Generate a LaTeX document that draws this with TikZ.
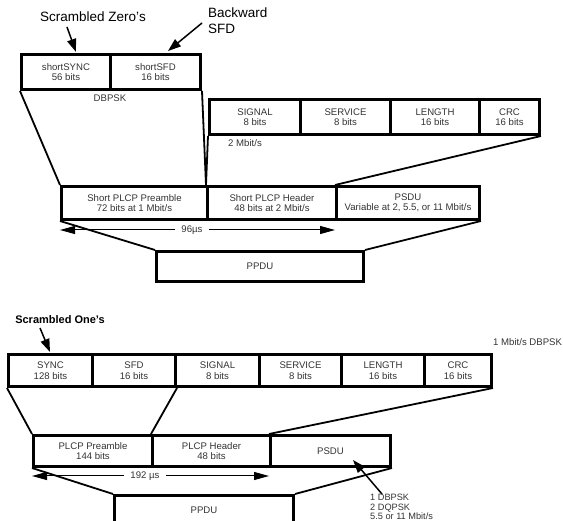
\documentclass[tikz,border=0pt]{standalone}
\usepackage{fontspec}
\setmainfont{Liberation Sans}
\usetikzlibrary{arrows.meta}
\begin{document}
\begin{tikzpicture}[x=1pt,y=-1pt,
  cell/.style={draw, line width=3pt, inner sep=0pt, align=center,
    font=\fontsize{9.6}{10.5}\selectfont, text=black!80, anchor=north west},
  conn/.style={line width=1.8pt},
  lbl/.style={font=\fontsize{9.6}{10.5}\selectfont, text=black!80, inner sep=0pt},
  big/.style={font=\fontsize{13.5}{16}\selectfont, inner sep=0pt},
  callout/.style={line width=1.5pt, -{Triangle[length=13pt,width=9pt]}},
  span/.style={line width=1pt, {Triangle[length=15pt,width=8pt]}-{Triangle[length=15pt,width=8pt]}}
]
\useasboundingbox (0,0) rectangle (563,521);
\clip (0,0) rectangle (563,521);

% ---------- top (short preamble) ----------
\node[big] (sz) at (93,17) {Scrambled Zero's};
\node[big, align=left, anchor=north west] (bsfd) at (208,8) {Backward\\SFD};

\node[cell, minimum width=89pt, minimum height=35pt] (ssync) at (20,53) {shortSYNC\\56 bits};
\node[cell, minimum width=90pt, minimum height=35pt] (ssfd) at (109,53) {shortSFD\\16 bits};
\node[lbl] (dbpsk) at (110,98) {DBPSK};

\coordinate (szs) at (67,27);
\coordinate (bss) at (202,23);
\draw[callout] (szs) -- (76,52);
\draw[callout] (bss) -- (168,51);

\node[cell, minimum width=91pt, minimum height=35pt] (sig1) at (208,98) {SIGNAL\\8 bits};
\node[cell, minimum width=90pt, minimum height=35pt] (ser1) at (299,98) {SERVICE\\8 bits};
\node[cell, minimum width=89pt, minimum height=35pt] (len1) at (389,98) {LENGTH\\16 bits};
\node[cell, minimum width=60pt, minimum height=35pt] (crc1) at (478,98) {CRC\\16 bits};
\node[lbl, anchor=west] (r2) at (228,143) {2 Mbit/s};

\node[cell, minimum width=146pt, minimum height=33pt] (pre1) at (60,185) {Short PLCP Preamble\\72 bits at 1 Mbit/s};
\node[cell, minimum width=129pt, minimum height=33pt] (hdr1) at (206,185) {Short PLCP Header\\48 bits at 2 Mbit/s};
\node[cell, minimum width=143pt, minimum height=33pt] (psdu1) at (335,185) {PSDU\\Variable at 2, 5.5, or 11 Mbit/s};
\node[cell, minimum width=207pt, minimum height=30pt] (ppdu1) at (155,250) {PPDU};

\draw[conn] (ssync.south west) -- (pre1.north west);
\draw[conn] (ssfd.south east) -- (hdr1.north west);
\draw[conn] (sig1.south west) -- (hdr1.north west);
\draw[conn] (crc1.south east) -- (psdu1.north west);
\draw[conn] (pre1.south west) -- (ppdu1.north west);
\draw[conn] (psdu1.south east) -- (ppdu1.north east);

\coordinate (a1l) at (60,230);
\coordinate (a1r) at (335,230);
\draw[span] (a1l) -- (a1r);
\node[lbl, fill=white, inner xsep=6pt, inner ysep=2pt] (t96) at (192,230) {96µs};

% ---------- bottom (long preamble) ----------
\node[font=\bfseries\fontsize{11}{13}\selectfont, inner sep=0pt] (so) at (60,320) {Scrambled One's};
\coordinate (sos) at (40,328);
\draw[callout] (sos) -- (50,352);

\node[cell, minimum width=84pt, minimum height=32pt] (sync) at (7,353) {SYNC\\128 bits};
\node[cell, minimum width=83pt, minimum height=32pt] (sfd) at (91,353) {SFD\\16 bits};
\node[cell, minimum width=84pt, minimum height=32pt] (sig2) at (174,353) {SIGNAL\\8 bits};
\node[cell, minimum width=82pt, minimum height=32pt] (ser2) at (258,353) {SERVICE\\8 bits};
\node[cell, minimum width=83pt, minimum height=32pt] (len2) at (340,353) {LENGTH\\16 bits};
\node[cell, minimum width=67pt, minimum height=32pt] (crc2) at (423,353) {CRC\\16 bits};
\node[lbl, anchor=west] (r1) at (493,342) {1 Mbit/s DBPSK};

\node[cell, minimum width=119pt, minimum height=31pt] (pre2) at (32,434) {PLCP Preamble\\144 bits};
\node[cell, minimum width=118pt, minimum height=31pt] (hdr2) at (151,434) {PLCP Header\\48 bits};
\node[cell, minimum width=120pt, minimum height=31pt] (psdu2) at (269,434) {PSDU};
\node[cell, minimum width=179pt, minimum height=30pt] (ppdu2) at (113,494) {PPDU};

\draw[conn] (sync.south west) -- (pre2.north west);
\draw[conn] (sfd.south east) -- (hdr2.north west);
\draw[conn] (crc2.south east) -- (psdu2.north west);
\draw[conn] (pre2.south west) -- (ppdu2.north west);
\draw[conn] (psdu2.south east) -- (ppdu2.north east);

\coordinate (a2l) at (32,476);
\coordinate (a2r) at (269,476);
\draw[span] (a2l) -- (a2r);
\node[lbl, fill=white, inner xsep=6pt, inner ysep=2pt] (t192) at (145,476) {192 µs};

\node[lbl, align=left, anchor=north west, font=\fontsize{9.2}{9.4}\selectfont] (mods) at (370,494) {1 DBPSK\\2 DQPSK\\5.5 or 11 Mbit/s};
\coordinate (modp) at (353,460);
\draw[callout] (382,494) -- (modp);
\end{tikzpicture}
\end{document}
